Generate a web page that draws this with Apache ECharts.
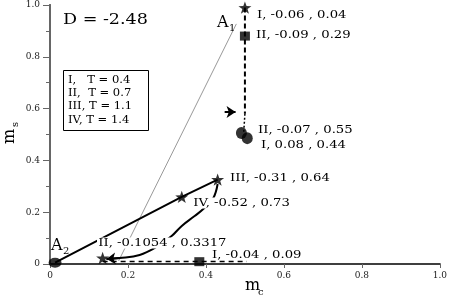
<!DOCTYPE html>
<html>
<head>
<meta charset="utf-8">
<script src="https://cdn.jsdelivr.net/npm/echarts@6/dist/echarts.min.js"></script>
<style>
html, body { margin: 0; padding: 0; background: #fff; }
#chart { width: 450px; height: 300px; }
</style>
</head>
<body>
<div id="chart"></div>
<script>
// axis ticks
const tickValues = [0, 0.2, 0.4, 0.6, 0.8, 1.0];
const tickLabels = ['0', '0.2', '0.4', '0.6', '0.8', '1.0'];

// markers, [m_c, m_s]
const stars = [[0.5, 0.99], [0.338, 0.259], [0.43, 0.326], [0.135, 0.023]];
const squares = [[0.5, 0.88], [0.383, 0.009]];
const circles = [[0.491, 0.506], [0.506, 0.486]];
const pointA2 = [[0.013, 0.005]];

// lines
const greyLine = [[0.176, 0.012], [0.478, 0.927]];
const dashedVertical = [[0.5, 0.99], [0.5, 0.58]];
const dottedVertical = [[0.5, 0.58], [0.497, 0.51]];
const dashedBottom = [[0.135, 0.01], [0.505, 0.01]];
const solidPath = [[0.013, 0.005], [0.338, 0.259], [0.43, 0.326]];
const curveIV = [[0.43, 0.309], [0.419, 0.255], [0.396, 0.216], [0.371, 0.185], [0.338, 0.147],
  [0.312, 0.108], [0.269, 0.062], [0.23, 0.035], [0.179, 0.023], [0.145, 0.019]];
const arrowMid = [[0.448, 0.587], [0.476, 0.587]];

const STAR = 'path://M0,-10L2.35,-3.24L9.51,-3.09L3.8,1.24L5.88,8.09L0,4L-5.88,8.09L-3.8,1.24L-9.51,-3.09L-2.35,-3.24Z';
const FONT = 'DejaVu Serif';
const AXIS_COLOR = '#666';

function tickFmt(v) {
  const i = tickValues.findIndex(t => Math.abs(t - v) < 1e-6);
  return i >= 0 ? tickLabels[i] : '';
}

function txt(x, y, text, size, opts) {
  opts = opts || {};
  return {
    type: 'text', x: x, y: y, z: 100,
    scaleX: opts.sx || 1, rotation: opts.rot || 0,
    style: {
      text: text, fill: '#000', font: size + 'px "' + FONT + '"',
      textAlign: 'left', textVerticalAlign: 'middle',
      backgroundColor: opts.bg, padding: opts.bg ? [0, 1] : 0
    }
  };
}

const chart = echarts.init(document.getElementById('chart'));
const option = {
  animation: false,
  backgroundColor: '#fff',
  grid: { left: 50, right: 9, top: 5, bottom: 36 },
  xAxis: [{
    type: 'value', min: 0, max: 1, interval: 0.2,
    axisLine: { lineStyle: { color: AXIS_COLOR, width: 2 } },
    axisTick: { length: 3, lineStyle: { color: AXIS_COLOR } },
    axisLabel: { formatter: tickFmt, fontFamily: FONT, fontSize: 9, color: '#222', margin: 7 },
    splitLine: { show: false }
  }, {
    type: 'value', min: 0, max: 1, interval: 0.2, position: 'top',
    axisLine: { show: true, lineStyle: { color: '#333', width: 1.5 } },
    axisTick: { inside: true, length: 4, lineStyle: { color: AXIS_COLOR } },
    axisLabel: { show: false }, splitLine: { show: false }
  }],
  yAxis: [{
    type: 'value', min: 0, max: 1, interval: 0.2,
    axisLine: { show: true, lineStyle: { color: AXIS_COLOR, width: 2 } },
    axisTick: { length: 7, lineStyle: { color: AXIS_COLOR } },
    minorTick: { show: true, splitNumber: 2, length: 3, lineStyle: { color: AXIS_COLOR } },
    axisLabel: { formatter: tickFmt, fontFamily: FONT, fontSize: 9, color: '#222', margin: 10 },
    splitLine: { show: false }
  }, {
    type: 'value', min: 0, max: 1, interval: 0.2, position: 'right',
    axisLine: { show: true, lineStyle: { color: AXIS_COLOR, width: 2 } },
    axisTick: { inside: true, length: 4, lineStyle: { color: AXIS_COLOR } },
    minorTick: { show: true, splitNumber: 2, length: 4, lineStyle: { color: AXIS_COLOR } },
    axisLabel: { show: false }, splitLine: { show: false }
  }],
  series: [
    { type: 'line', data: greyLine, symbol: 'none', z: 1,
      lineStyle: { color: '#999', width: 1 } },
    { type: 'line', data: dashedVertical, symbol: 'none',
      lineStyle: { color: '#000', width: 2, type: [5, 3] } },
    { type: 'line', data: dottedVertical, symbol: 'none',
      lineStyle: { color: '#000', width: 1.5, type: [2, 2] } },
    { type: 'line', data: dashedBottom, symbol: 'none',
      lineStyle: { color: '#000', width: 1.5, type: [5, 4] } },
    { type: 'line', data: solidPath, symbol: 'none',
      lineStyle: { color: '#000', width: 2 } },
    { type: 'line', data: curveIV, symbol: 'none', smooth: 0.4,
      lineStyle: { color: '#000', width: 2 } },
    { type: 'lines', coordinateSystem: 'cartesian2d',
      symbol: ['none', 'arrow'], symbolSize: 9,
      lineStyle: { color: '#000', width: 2, opacity: 1 },
      data: [{ coords: arrowMid }, { coords: curveIV.slice(-2) }] },
    { type: 'scatter', data: circles, symbol: 'circle', symbolSize: [11, 12],
      itemStyle: { color: '#000' } },
    { type: 'scatter', data: pointA2, symbol: 'circle', symbolSize: [13, 10],
      itemStyle: { color: '#000' } },
    { type: 'scatter', data: squares, symbol: 'rect', symbolSize: [10, 9],
      itemStyle: { color: '#000' } },
    { type: 'scatter', data: stars, symbol: STAR, symbolSize: 13, symbolKeepAspect: true,
      itemStyle: { color: '#000' } }
  ],
  graphic: [
    txt(63, 20, 'D = -2.48', 15, { sx: 1.17 }),
    // legend box
    { type: 'rect', z: 100, shape: { x: 63.5, y: 70.5, width: 85, height: 60 },
      style: { fill: '#fff', stroke: '#000', lineWidth: 1 } },
    txt(68, 80, 'I,   T = 0.4', 11, { sx: 1.05 }),
    txt(68, 93, 'II,  T = 0.7', 11, { sx: 1.05 }),
    txt(68, 106.5, 'III, T = 1.1', 11, { sx: 1.05 }),
    txt(68, 120, 'IV, T = 1.4', 11, { sx: 1.05 }),
    // point annotations
    txt(257, 15, 'I, -0.06 , 0.04', 11, { sx: 1.2 }),
    txt(256, 35, 'II, -0.09 , 0.29', 11, { sx: 1.2 }),
    txt(258, 130, 'II, -0.07 , 0.55', 11, { sx: 1.2 }),
    txt(261, 145, 'I, 0.08 , 0.44', 11, { sx: 1.2 }),
    txt(230, 178, 'III, -0.31 , 0.64', 11, { sx: 1.2 }),
    txt(192, 203, 'IV, -0.52 , 0.73', 11, { sx: 1.2, bg: '#fff' }),
    txt(97, 243, 'II, -0.1054 , 0.3317', 11, { sx: 1.2, bg: '#fff' }),
    txt(212, 255, 'I, -0.04 , 0.09', 11, { sx: 1.2 }),
    txt(217, 23, 'A', 16),
    txt(229, 28, '1', 10),
    txt(51, 246, 'A', 16),
    txt(63, 251, '2', 10),
    // axis titles
    txt(245, 286, 'm', 16),
    txt(258, 292, 'c', 10),
    txt(10, 144, 'm', 16, { rot: Math.PI / 2 }),
    txt(15, 127, 's', 10, { rot: Math.PI / 2 })
  ]
};
chart.setOption(option);
</script>
</body>
</html>
